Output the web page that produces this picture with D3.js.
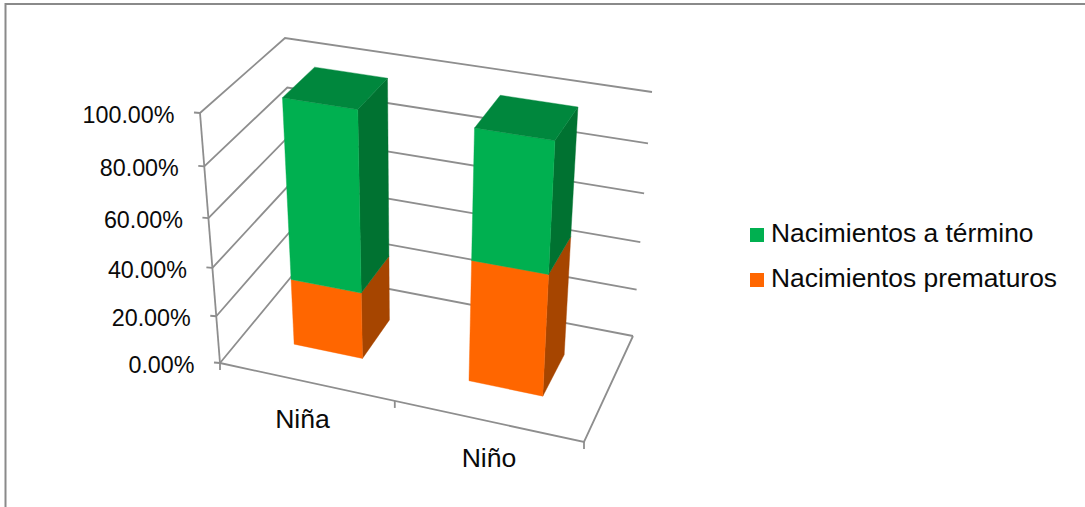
<!DOCTYPE html>
<html>
<head>
<meta charset="utf-8">
<script src="https://cdn.jsdelivr.net/npm/d3@7"></script>
<style>
  html, body { margin: 0; padding: 0; background: #fff; }
  svg { display: block; }
  text { font-family: "Liberation Sans", Arial, sans-serif; fill: #0a0a0a; }
</style>
</head>
<body>
<svg id="chart" width="1085" height="507"></svg>
<script>
// Share of births by term status for each sex
const categories = ["Niña", "Niño"];
const seriesNames = ["Nacimientos prematuros", "Nacimientos a término"];
const prematuros = [0.278, 0.494];
const aTermino = [0.722, 0.506];
const tickValues = [0, 0.2, 0.4, 0.6, 0.8, 1];
const legendOrder = ["Nacimientos a término", "Nacimientos prematuros"];

const GRID = "#8e8e8e";
const faces = {
  "Nacimientos a término": { front: "#00b050", side: "#007231", top: "#00873d" },
  "Nacimientos prematuros": { front: "#ff6600", side: "#a64500", top: "#c95000" }
};

const svg = d3.select("#chart");

// Plane projection from the unit square onto a screen quadrilateral (homogeneous result)
function planeMap(p0, p1, p2, p3) {
  const dx1 = p1[0] - p2[0], dx2 = p3[0] - p2[0], sx = p0[0] - p1[0] + p2[0] - p3[0];
  const dy1 = p1[1] - p2[1], dy2 = p3[1] - p2[1], sy = p0[1] - p1[1] + p2[1] - p3[1];
  const det = dx1 * dy2 - dx2 * dy1;
  const g = (sx * dy2 - dx2 * sy) / det, h = (dx1 * sy - sx * dy1) / det;
  const a = p1[0] - p0[0] + g * p1[0], b = p3[0] - p0[0] + h * p3[0];
  const d = p1[1] - p0[1] + g * p1[1], e = p3[1] - p0[1] + h * p3[1];
  return (u, v) => [a * u + b * v + p0[0], d * u + e * v + p0[1], g * u + h * v + 1];
}

// Floor and ceiling planes of the 3D plot box
const floorPlane = planeMap([220, 363], [584, 442], [633, 336], [296, 271]);
const ceilPlane = planeMap([200, 113], [600, 178], [652, 92], [285, 38]);
const ceilWeight = 0.92;

// u: along the categories, v: into the depth, w: share of the total height
function project(u, v, w) {
  const f = floorPlane(u, v), c = ceilPlane(u, v);
  const m = i => (1 - w) * f[i] + w * ceilWeight * c[i];
  return [m(0) / m(2), m(1) / m(2)];
}

const xBand = d3.scaleBand().domain(categories).range([0, 1]).paddingInner(0.6).paddingOuter(0.3);
const depth = d3.scaleLinear().domain([0, 1]).range([0.3, 0.7]);
const y = d3.scaleLinear().domain([0, 1]).range([0, 1]);
const pct = d3.format(".2%");
const line = d3.line();

// Chart frame, open on the right
svg.append("path")
  .attr("d", "M5.5,507V4H1085")
  .attr("fill", "none").attr("stroke", "#8a8a8a").attr("stroke-width", 2);

const walls = svg.append("g").attr("fill", "none").attr("stroke", GRID).attr("stroke-width", 1.8);

// Gridlines running along the left and back walls
tickValues.forEach(t => {
  const w = y(t);
  walls.append("path").attr("d", line([project(0, 0, w), project(0, 1, w), project(1, 1, w)]));
  const p = project(0, 0, w);
  walls.append("path").attr("d", line([p, [p[0] - 6, p[1] - 0.5]]));
});

// Value axis and floor edges
walls.append("path").attr("d", line([project(0, 0, 1), project(0, 0, 0)]));
walls.append("path").attr("d", line([project(0, 0, 0), project(1, 0, 0), project(1, 1, 0)]));

// Category ticks under the front floor edge
[0, 0.5, 1].forEach(u => {
  const p = project(u, 0, 0);
  walls.append("path").attr("d", line([p, [p[0], p[1] + 7]]));
});

// Stacked bars: front, right and, for the last segment, top faces
const bars = svg.append("g");
categories.forEach((cat, i) => {
  const u0 = xBand(cat), u1 = u0 + xBand.bandwidth();
  const v0 = depth(0), v1 = depth(1);
  let base = 0;
  [[seriesNames[0], prematuros[i]], [seriesNames[1], aTermino[i]]].forEach(([name, val], s) => {
    const w0 = y(base), w1 = y(base + val);
    const c = faces[name];
    const poly = (pts, fill) => bars.append("path")
      .attr("d", line(pts) + "Z").attr("fill", fill).attr("stroke", fill).attr("stroke-width", 0.4);
    poly([project(u1, v0, w0), project(u1, v1, w0), project(u1, v1, w1), project(u1, v0, w1)], c.side);
    poly([project(u0, v0, w0), project(u1, v0, w0), project(u1, v0, w1), project(u0, v0, w1)], c.front);
    if (s === 1) {
      poly([project(u0, v0, w1), project(u1, v0, w1), project(u1, v1, w1), project(u0, v1, w1)], c.top);
    }
    base += val;
  });
});

// Value labels
svg.append("g").selectAll("text").data(tickValues).join("text")
  .attr("x", t => project(0, 0, y(t))[0] - 25.5)
  .attr("y", t => project(0, 0, y(t))[1] + 10)
  .attr("text-anchor", "end").attr("font-size", 23.3)
  .text(pct);

// Category labels
const catPos = [[302.5, 428], [489, 467]];
svg.append("g").selectAll("text").data(categories).join("text")
  .attr("x", (d, i) => catPos[i][0]).attr("y", (d, i) => catPos[i][1])
  .attr("text-anchor", "middle").attr("font-size", 26.6)
  .text(d => d);

// Legend
const legend = svg.append("g").selectAll("g").data(legendOrder).join("g")
  .attr("transform", (d, i) => `translate(0,${i * 45})`);
legend.append("rect")
  .attr("x", 750).attr("y", 228).attr("width", 14).attr("height", 14)
  .attr("fill", d => faces[d].front);
legend.append("text")
  .attr("x", 771).attr("y", 242).attr("font-size", 26.4)
  .text(d => d);
</script>
</body>
</html>
